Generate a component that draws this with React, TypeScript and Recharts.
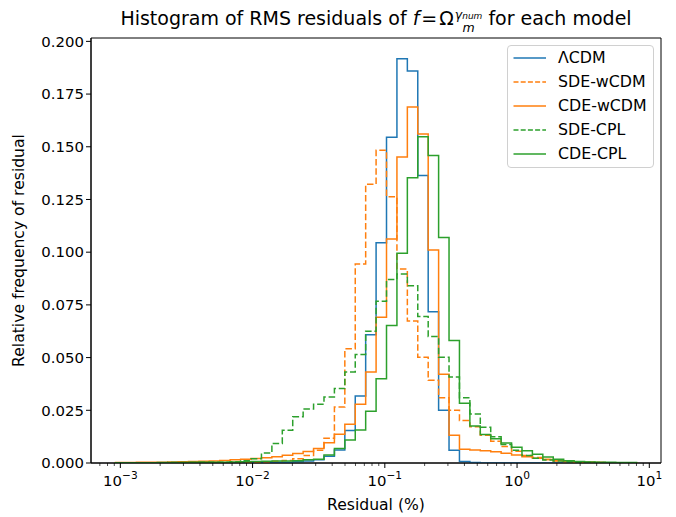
import React from 'react';
import { LineChart, Line, XAxis, YAxis, ReferenceArea, Legend, Label } from 'recharts';

// log-spaced bins shared by every model (np.logspace style)
const LOG_MIN = -3.036;
const LOG_MAX = 0.904;
const N_BINS = 50;
const binEdges = Array.from({ length: N_BINS + 1 }, (_, i) =>
  Math.pow(10, LOG_MIN + (i * (LOG_MAX - LOG_MIN)) / N_BINS)
);

// relative frequency per bin
const lcdm = [
  0.0001, 0.0001, 0.0001, 0.0001, 0.0001, 0.0001, 0.0001, 0.0001, 0.0001, 0.0001,
  0.0001, 0.0001, 0.0002, 0.0002, 0.0003, 0.0003, 0.0004, 0.0006, 0.0009, 0.0015,
  0.0032, 0.0062, 0.0154, 0.0318, 0.0608, 0.1045, 0.1545, 0.1917, 0.186, 0.1364,
  0.0718, 0.025, 0.006, 0.0007, 0.0002, 0, 0, 0, 0, 0,
  0, 0, 0, 0, 0, 0, 0, 0, 0, 0,
];
const sdeWcdm = [
  0.0001, 0.0001, 0.0001, 0.0001, 0.0001, 0.0001, 0.0001, 0.0001, 0.0001, 0.0001,
  0.0001, 0.0002, 0.0003, 0.0004, 0.0005, 0.0008, 0.0012, 0.002, 0.0035, 0.006,
  0.0117, 0.0266, 0.0542, 0.0944, 0.1322, 0.1484, 0.1263, 0.092, 0.0673, 0.0502,
  0.0392, 0.031, 0.025, 0.0202, 0.0172, 0.0132, 0.0103, 0.0078, 0.0056, 0.0036,
  0.0026, 0.0017, 0.001, 0.0006, 0.0004, 0.0003, 0.0002, 0.0001, 0.0001, 0.0001,
];
const cdeWcdm = [
  0.0002, 0.0002, 0.0003, 0.0003, 0.0004, 0.0005, 0.0006, 0.0007, 0.0008, 0.001,
  0.0012, 0.0015, 0.0018, 0.0021, 0.0025, 0.003, 0.0037, 0.0045, 0.0054, 0.0069,
  0.0096, 0.0136, 0.0184, 0.0279, 0.0432, 0.0691, 0.1062, 0.1452, 0.1689, 0.1561,
  0.101, 0.0421, 0.0132, 0.0065, 0.0062, 0.0058, 0.0053, 0.0046, 0.0038, 0.003,
  0.0023, 0.0017, 0.0012, 0.0008, 0.0005, 0.0003, 0.0002, 0.0001, 0.0001, 0.0001,
];
const sdeCpl = [
  0.0001, 0.0001, 0.0001, 0.0001, 0.0001, 0.0002, 0.0002, 0.0002, 0.0003, 0.0003,
  0.0004, 0.0006, 0.0011, 0.002, 0.0047, 0.0093, 0.0155, 0.0219, 0.0256, 0.0279,
  0.0313, 0.0353, 0.0432, 0.0515, 0.0625, 0.0767, 0.087, 0.0897, 0.0841, 0.0695,
  0.06, 0.0502, 0.0408, 0.031, 0.0233, 0.017, 0.0124, 0.0088, 0.006, 0.0035,
  0.0022, 0.0014, 0.0009, 0.0006, 0.0004, 0.0003, 0.0002, 0.0001, 0.0001, 0.0001,
];
const cdeCpl = [
  0.0001, 0.0001, 0.0001, 0.0001, 0.0002, 0.0002, 0.0002, 0.0003, 0.0003, 0.0004,
  0.0004, 0.0005, 0.0006, 0.0007, 0.0008, 0.0009, 0.001, 0.0011, 0.0015, 0.0018,
  0.0038, 0.0069, 0.0109, 0.0156, 0.0246, 0.04, 0.0652, 0.0995, 0.1353, 0.1547,
  0.1459, 0.107, 0.0581, 0.0283, 0.0176, 0.0135, 0.0115, 0.0095, 0.0075, 0.0058,
  0.0042, 0.0028, 0.0018, 0.0011, 0.0007, 0.0005, 0.0004, 0.0003, 0.0002, 0.0002,
];

const yTicks = [0, 0.025, 0.05, 0.075, 0.1, 0.125, 0.15, 0.175, 0.2];
const xMajor = [1e-3, 1e-2, 1e-1, 1, 10];
const xMinor: number[] = [7e-4, 8e-4, 9e-4];
for (const base of [1e-3, 1e-2, 1e-1, 1]) {
  for (let m = 2; m <= 9; m++) xMinor.push(m * base);
}

const X_DOMAIN = [6.0e-4, 12.26];
const Y_DOMAIN = [0, 0.2016];
const FONT = '"DejaVu Sans", sans-serif';
const TICK_FS = 14.9;

const series = [
  { name: 'ΛCDM', values: lcdm, color: '#1f77b4', dash: undefined },
  { name: 'SDE-wCDM', values: sdeWcdm, color: '#ff7f0e', dash: '6.5 2.8' },
  { name: 'CDE-wCDM', values: cdeWcdm, color: '#ff7f0e', dash: undefined },
  { name: 'SDE-CPL', values: sdeCpl, color: '#2ca02c', dash: '6.5 2.8' },
  { name: 'CDE-CPL', values: cdeCpl, color: '#2ca02c', dash: undefined },
];

// histtype='step' outline: start and end at zero
const toSteps = (values: number[]) => [
  { x: binEdges[0], y: 0 },
  ...values.map((v, i) => ({ x: binEdges[i], y: v })),
  { x: binEdges[N_BINS], y: values[N_BINS - 1] },
  { x: binEdges[N_BINS], y: 0 },
];

const XTick = (props: any) => {
  const { x, y, payload } = props;
  const lg = Math.log10(payload.value);
  const exp = Math.round(lg);
  const major = Math.abs(lg - exp) < 1e-6;
  return (
    <g>
      <line x1={x} x2={x} y1={y} y2={y + (major ? 5 : 3)} stroke="#000" strokeWidth={major ? 1 : 0.7} />
      {major && (
        <text x={x} y={y + 23} textAnchor="middle" fontSize={TICK_FS} fontFamily={FONT} fill="#000">
          10
          <tspan dy={-7} fontSize={10.6}>
            {exp < 0 ? '\u2212' + -exp : String(exp)}
          </tspan>
        </text>
      )}
    </g>
  );
};

const LegendBox = () => (
  <div
    style={{
      width: 147,
      height: 123,
      boxSizing: 'border-box',
      border: '1px solid #d0d0d0',
      borderRadius: 4,
      background: 'rgba(255,255,255,0.8)',
      position: 'relative',
      fontFamily: FONT,
      fontSize: 15.8,
    }}
  >
    {series.map((s, i) => (
      <div key={s.name} style={{ position: 'absolute', left: 0, top: 0.3 + i * 24, height: 24, display: 'flex', alignItems: 'center' }}>
        <svg width={46} height={24} style={{ display: 'block' }}>
          <line x1={5.5} x2={38} y1={12} y2={12} stroke={s.color} strokeWidth={1.5} strokeDasharray={s.dash ? '5 2.2' : undefined} />
        </svg>
        <span style={{ marginLeft: 4, color: '#000', lineHeight: '24px' }}>{s.name}</span>
      </div>
    ))}
  </div>
);

export default function App() {
  return (
    <div style={{ position: 'absolute', left: 0, top: 0, width: 676, height: 517, background: '#fff' }}>
      <div
        style={{
          position: 'absolute',
          left: 76,
          width: 600,
          top: 5,
          textAlign: 'center',
          fontFamily: FONT,
          fontSize: 19,
          lineHeight: '26px',
          color: '#000',
          whiteSpace: 'nowrap',
        }}
      >
        Histogram of RMS residuals of <i>f</i>
        <span style={{ margin: '0 2px' }}>=</span>Ω
        <span
          style={{
            display: 'inline-flex',
            flexDirection: 'column',
            verticalAlign: 6,
            fontSize: 12.5,
            lineHeight: '11px',
            fontStyle: 'italic',
            marginLeft: 1,
          }}
        >
          <span>
            γ<span style={{ fontSize: 9 }}>num</span>
          </span>
          <span>m</span>
        </span>{' '}
        for each model
      </div>
      <LineChart width={676} height={517} margin={{ top: 38, right: 15, bottom: 0, left: 0 }} style={{ fontFamily: FONT }}>
        <XAxis
          dataKey="x"
          type="number"
          scale="log"
          domain={X_DOMAIN}
          allowDataOverflow
          ticks={[...xMajor, ...xMinor]}
          interval={0}
          tick={<XTick />}
          tickSize={0}
          tickMargin={0}
          tickLine={false}
          height={54}
          axisLine={{ stroke: '#000', strokeWidth: 1 }}
        >
          <Label value="Residual (%)" position="insideBottom" offset={7} style={{ fontSize: 15.6, fill: '#000', fontFamily: FONT }} />
        </XAxis>
        <YAxis
          type="number"
          domain={Y_DOMAIN}
          allowDataOverflow
          ticks={yTicks}
          interval={0}
          tickFormatter={(v: number) => v.toFixed(3)}
          width={91}
          tickSize={5}
          tickMargin={2}
          tick={{ fontSize: TICK_FS, fill: '#000', fontFamily: FONT }}
          tickLine={{ stroke: '#000' }}
          axisLine={{ stroke: '#000', strokeWidth: 1 }}
        >
          <Label
            value="Relative frequency of residual"
            angle={-90}
            position="insideLeft"
            offset={18}
            style={{ fontSize: 15.6, fill: '#000', fontFamily: FONT, textAnchor: 'middle' }}
          />
        </YAxis>
        {series.map((s) => (
          <Line
            key={s.name}
            data={toSteps(s.values)}
            dataKey="y"
            name={s.name}
            type="stepAfter"
            stroke={s.color}
            strokeWidth={1.5}
            strokeDasharray={s.dash}
            dot={false}
            activeDot={false}
            isAnimationActive={false}
          />
        ))}
        <ReferenceArea x1={X_DOMAIN[0]} x2={X_DOMAIN[1]} y1={Y_DOMAIN[0]} y2={Y_DOMAIN[1]} fill="none" stroke="#000" strokeWidth={1} />
        <Legend
          layout="horizontal"
          verticalAlign="middle"
          align="center"
          content={<LegendBox />}
          wrapperStyle={{ position: 'absolute', left: 507, top: 45, width: 147, height: 123 }}
        />
      </LineChart>
    </div>
  );
}
